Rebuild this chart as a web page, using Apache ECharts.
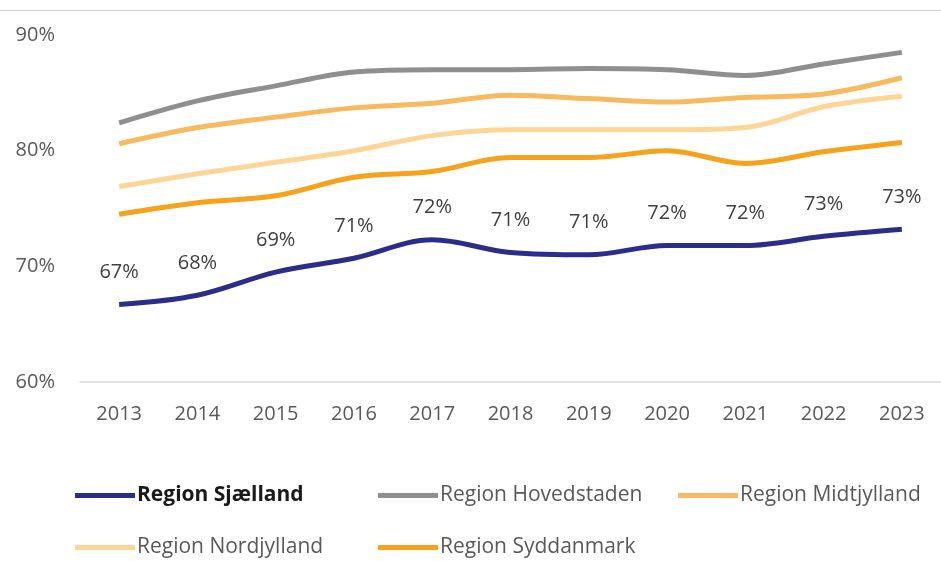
<!DOCTYPE html>
<html>
<head>
<meta charset="utf-8">
<style>
  html, body { margin: 0; padding: 0; background: #fff; }
  #chart { width: 941px; height: 561px; }
</style>
<script src="https://cdn.jsdelivr.net/npm/echarts@6/dist/echarts.min.js"></script>
</head>
<body>
<div id="chart"></div>
<script>
// år og andele (%)
const years = ['2013', '2014', '2015', '2016', '2017', '2018', '2019', '2020', '2021', '2022', '2023']
const sjaelland = [66.7, 67.5, 69.5, 70.7, 72.3, 71.2, 71.0, 71.8, 71.8, 72.6, 73.2]
const sjaellandLabels = ['67%', '68%', '69%', '71%', '72%', '71%', '71%', '72%', '72%', '73%', '73%']
const hovedstaden = [82.4, 84.3, 85.6, 86.8, 87.0, 87.0, 87.1, 87.0, 86.5, 87.5, 88.5]
const midtjylland = [80.6, 82.0, 82.9, 83.7, 84.1, 84.8, 84.5, 84.2, 84.6, 84.9, 86.3]
const nordjylland = [76.9, 78.0, 79.0, 80.0, 81.3, 81.8, 81.8, 81.8, 82.0, 83.8, 84.7]
const syddanmark = [74.5, 75.5, 76.1, 77.7, 78.2, 79.4, 79.4, 80.0, 78.9, 79.9, 80.7]

const font = '"Open Sans", "Noto Sans", sans-serif'
const chart = echarts.init(document.getElementById('chart'))

function legendAt(name, left, top, bold) {
  return {
    data: [name],
    left: left,
    top: top,
    icon: 'rect',
    itemWidth: 60,
    itemHeight: 5,
    itemGap: 0,
    padding: 0,
    selectedMode: false,
    textStyle: {
      fontFamily: font,
      fontSize: 21,
      color: bold ? '#1a1a1a' : '#595959',
      fontWeight: bold ? 'bold' : 'normal',
      padding: [0, 0, 0, -3]
    }
  }
}

function lineSeries(name, data, color) {
  return {
    name: name,
    type: 'line',
    data: data,
    smooth: 0.35,
    symbol: 'none',
    lineStyle: { width: 5, color: color },
    itemStyle: { color: color }
  }
}

chart.setOption({
  animation: false,
  graphic: [{
    type: 'line',
    shape: { x1: 0, y1: 10.5, x2: 941, y2: 10.5 },
    style: { stroke: '#d0d0d0', lineWidth: 1 }
  }],
  legend: [
    legendAt('Region Sjælland', 75, 485, true),
    legendAt('Region Hovedstaden', 378, 485),
    legendAt('Region Midtjylland', 678, 485),
    legendAt('Region Nordjylland', 75, 537),
    legendAt('Region Syddanmark', 378, 537)
  ],
  grid: {
    left: 80,
    top: 35,
    width: 866,
    height: 347,
    containLabel: false
  },
  xAxis: {
    type: 'category',
    data: years,
    boundaryGap: true,
    axisLine: { lineStyle: { color: '#d9d9d9', width: 1.5 } },
    axisTick: { show: false },
    axisLabel: { fontFamily: font, fontSize: 20, color: '#595959', margin: 22 }
  },
  yAxis: {
    type: 'value',
    min: 60,
    max: 90,
    interval: 10,
    splitLine: { show: false },
    axisLine: { show: false },
    axisTick: { show: false },
    axisLabel: {
      fontFamily: font,
      fontSize: 20,
      color: '#595959',
      margin: 25,
      formatter: v => v + '%'
    }
  },
  series: [
    Object.assign(lineSeries('Region Sjælland', sjaelland, '#2b2d8a'), {
      z: 5,
      symbol: 'circle',
      symbolSize: 0,
      showSymbol: true,
      label: {
        show: true,
        position: 'top',
        distance: 22,
        fontFamily: font,
        fontSize: 20,
        color: '#404040',
        formatter: p => sjaellandLabels[p.dataIndex]
      }
    }),
    lineSeries('Region Hovedstaden', hovedstaden, '#8f8f8f'),
    lineSeries('Region Midtjylland', midtjylland, '#f8ba5e'),
    lineSeries('Region Nordjylland', nordjylland, '#fcd597'),
    lineSeries('Region Syddanmark', syddanmark, '#f7a21b')
  ]
})
</script>
</body>
</html>
